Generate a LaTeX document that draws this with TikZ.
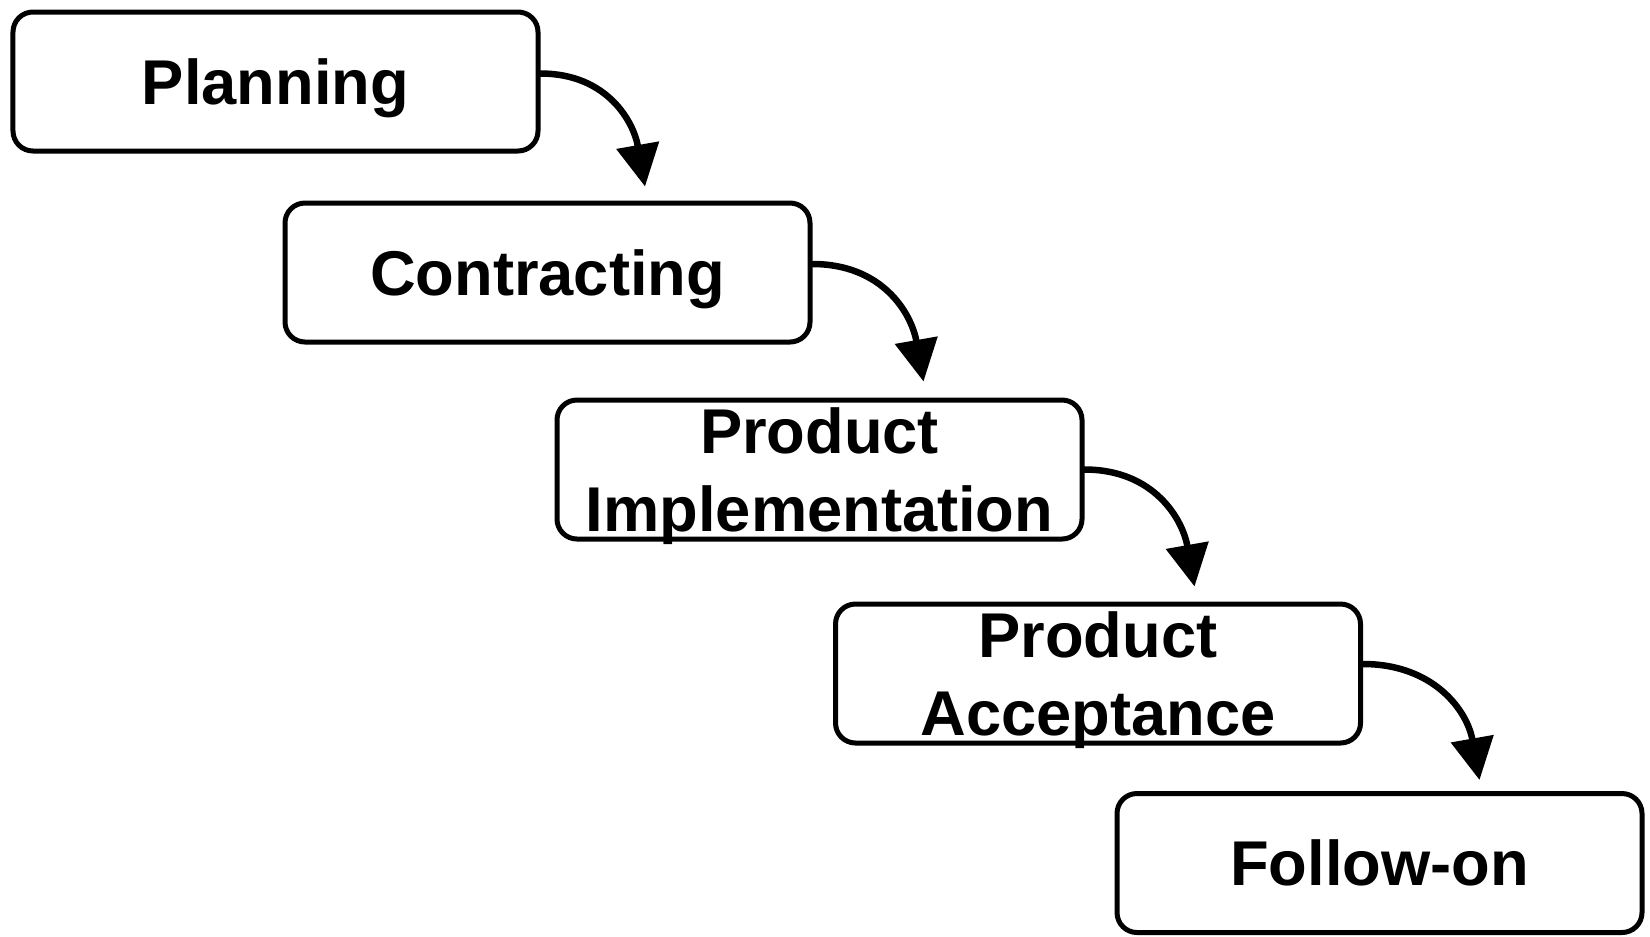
\documentclass[tikz,border=0pt]{standalone}
\usepackage{fontspec}
\setmainfont{Liberation Sans}
\usetikzlibrary{arrows.meta}
\tikzset{
  phase/.style={draw, line width=0.1cm, rounded corners=0.4cm, minimum width=10.5cm,
    minimum height=2.78cm, align=center, inner sep=0pt, text depth=0pt,
    font=\fontsize{36}{44}\selectfont\bfseries},
  flow/.style={->, line width=0.13cm, line cap=round}
}
\begin{document}
\begin{tikzpicture}[>={Triangle[length=0.84cm,width=0.84cm]}]
\useasboundingbox (0,0) rectangle (33,-18.72);
\node[phase] (plan) at (5.51,-1.63) {Planning};
\node[phase] (cont) at (10.95,-5.45) {Contracting};
\node[phase] (impl) at (16.39,-9.39) {Product\\Implementation};
\node[phase] (acc) at (21.96,-13.47) {Product\\Acceptance};
\node[phase] (foll) at (27.59,-17.26) {Follow-on};

\draw[flow]([yshift=0.16cm]plan.east) to[out=0,in=100,looseness=1.1] ([xshift=-3.35cm,yshift=0.28cm]cont.north east);
\draw[flow]([yshift=0.17cm]cont.east) to[out=0,in=100,looseness=1.1] ([xshift=-3.22cm,yshift=0.32cm]impl.north east);
\draw[flow]([yshift=0.0cm]impl.east) to[out=0,in=100,looseness=1.1] ([xshift=-3.37cm,yshift=0.3cm]acc.north east);
\draw[flow]([yshift=0.19cm]acc.east) to[out=0,in=100,looseness=1.1] ([xshift=-3.3cm,yshift=0.22cm]foll.north east);

\end{tikzpicture}
\end{document}
